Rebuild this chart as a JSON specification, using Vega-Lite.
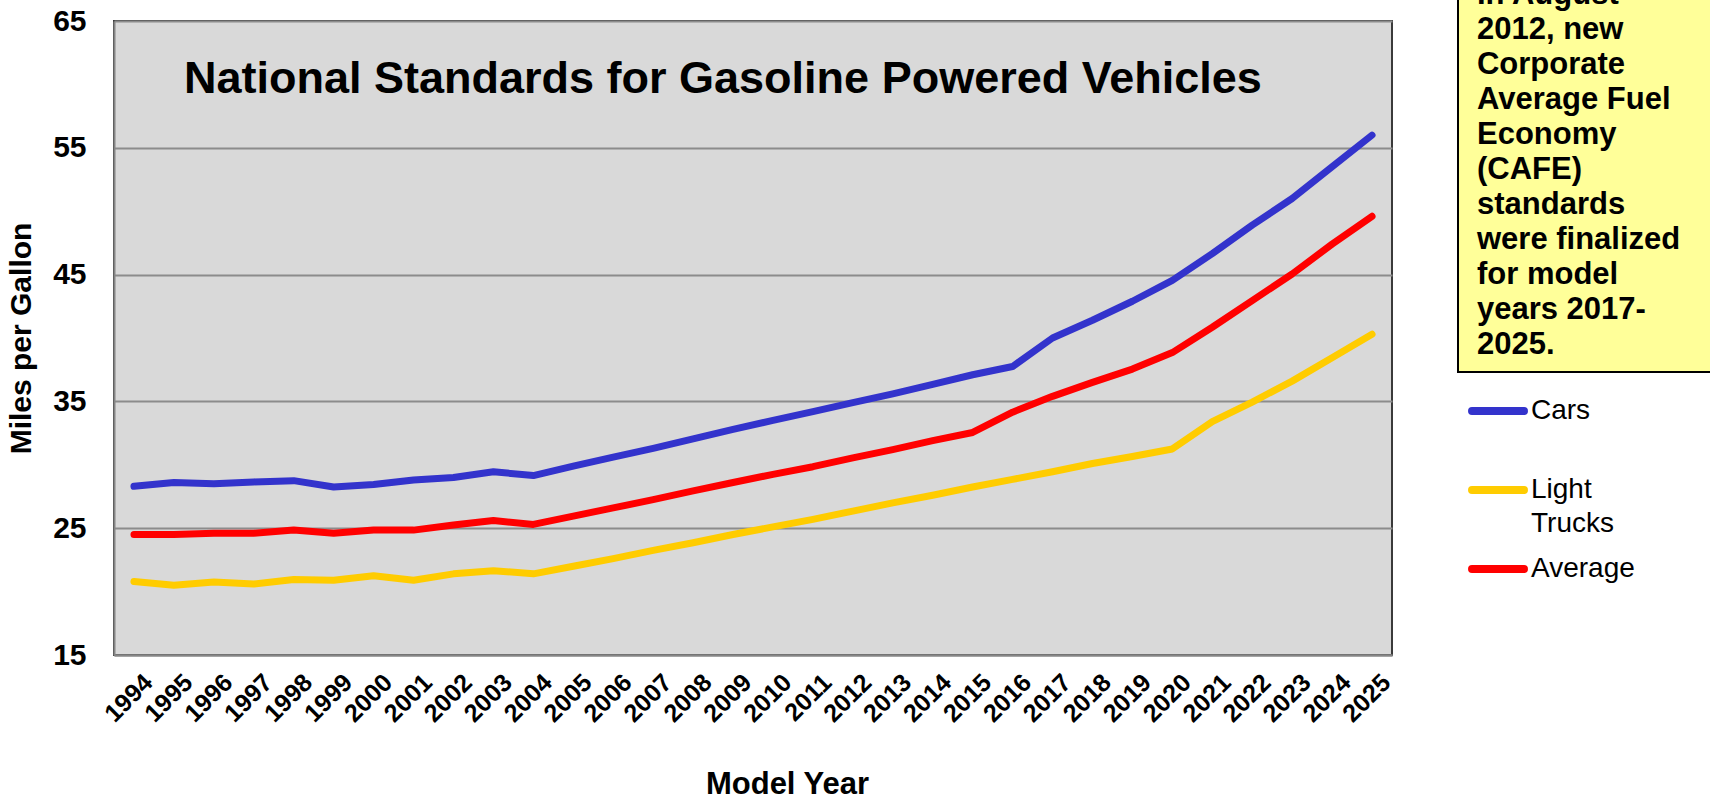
{
  "$schema": "https://vega.github.io/schema/vega-lite/v6.json",
  "padding": {"left": 5, "top": -50, "right": 0, "bottom": 0},
  "background": "white",
  "spacing": 60,
  "config": {
    "font": "Liberation Sans",
    "axis": {"labelColor": "black", "titleColor": "black", "labelFont": "Liberation Sans", "titleFont": "Liberation Sans"},
    "legend": {"labelFont": "Liberation Sans", "labelColor": "black"}
  },
  "hconcat": [
    {
      "width": 1278,
      "height": 634,
      "data": {
        "values": [
          {"Year": "1994", "Cars": 28.3, "Light Trucks": 20.8, "Average": 24.5},
          {"Year": "1995", "Cars": 28.6, "Light Trucks": 20.5, "Average": 24.5},
          {"Year": "1996", "Cars": 28.5, "Light Trucks": 20.75, "Average": 24.6},
          {"Year": "1997", "Cars": 28.65, "Light Trucks": 20.6, "Average": 24.6},
          {"Year": "1998", "Cars": 28.75, "Light Trucks": 20.95, "Average": 24.85},
          {"Year": "1999", "Cars": 28.25, "Light Trucks": 20.9, "Average": 24.6},
          {"Year": "2000", "Cars": 28.45, "Light Trucks": 21.25, "Average": 24.85},
          {"Year": "2001", "Cars": 28.8, "Light Trucks": 20.9, "Average": 24.85},
          {"Year": "2002", "Cars": 29.0, "Light Trucks": 21.4, "Average": 25.25},
          {"Year": "2003", "Cars": 29.45, "Light Trucks": 21.65, "Average": 25.6},
          {"Year": "2004", "Cars": 29.15, "Light Trucks": 21.4, "Average": 25.3},
          {"Year": "2005", "Cars": 29.9, "Light Trucks": 22.0, "Average": 25.95},
          {"Year": "2006", "Cars": 30.6, "Light Trucks": 22.6, "Average": 26.6},
          {"Year": "2007", "Cars": 31.3, "Light Trucks": 23.25, "Average": 27.25},
          {"Year": "2008", "Cars": 32.05, "Light Trucks": 23.85, "Average": 27.95},
          {"Year": "2009", "Cars": 32.8, "Light Trucks": 24.5, "Average": 28.6},
          {"Year": "2010", "Cars": 33.5, "Light Trucks": 25.1, "Average": 29.25},
          {"Year": "2011", "Cars": 34.2, "Light Trucks": 25.7, "Average": 29.85},
          {"Year": "2012", "Cars": 34.9, "Light Trucks": 26.35, "Average": 30.55},
          {"Year": "2013", "Cars": 35.6, "Light Trucks": 27.0, "Average": 31.2},
          {"Year": "2014", "Cars": 36.35, "Light Trucks": 27.6, "Average": 31.9},
          {"Year": "2015", "Cars": 37.1, "Light Trucks": 28.25, "Average": 32.55},
          {"Year": "2016", "Cars": 37.75, "Light Trucks": 28.85, "Average": 34.15},
          {"Year": "2017", "Cars": 40.0, "Light Trucks": 29.45, "Average": 35.4},
          {"Year": "2018", "Cars": 41.4, "Light Trucks": 30.1, "Average": 36.5},
          {"Year": "2019", "Cars": 42.9, "Light Trucks": 30.65, "Average": 37.55},
          {"Year": "2020", "Cars": 44.55, "Light Trucks": 31.25, "Average": 38.85},
          {"Year": "2021", "Cars": 46.65, "Light Trucks": 33.4, "Average": 40.85},
          {"Year": "2022", "Cars": 48.9, "Light Trucks": 34.95, "Average": 42.95},
          {"Year": "2023", "Cars": 51.0, "Light Trucks": 36.6, "Average": 45.05},
          {"Year": "2024", "Cars": 53.5, "Light Trucks": 38.45, "Average": 47.4},
          {"Year": "2025", "Cars": 56.0, "Light Trucks": 40.3, "Average": 49.6}
        ]
      },
      "transform": [{"fold": ["Cars", "Light Trucks", "Average"], "as": ["Series", "MPG"]}],
      "title": {
        "text": "National Standards for Gasoline Powered Vehicles",
        "anchor": "start", "frame": "group", "orient": "top", "offset": 0,
        "baseline": "alphabetic", "dx": 70, "dy": 132,
        "fontSize": 45, "fontWeight": "bold", "font": "Liberation Sans", "color": "black"
      },
      "view": {"fill": "#D9D9D9", "stroke": "#3a3a3a", "strokeWidth": 2},
      "mark": {"type": "line", "strokeWidth": 7, "strokeCap": "round", "strokeJoin": "round"},
      "encoding": {
        "x": {
          "field": "Year", "type": "ordinal",
          "scale": {"type": "point", "padding": 0.5},
          "axis": {
            "title": "Model Year", "labelAngle": -45, "labelAlign": "right", "labelBaseline": "middle",
            "labelFontSize": 25, "labelFontWeight": "bold", "labelPadding": 23, "labelOffset": 14, "labelOverlap": false,
            "ticks": false, "domainColor": "#868686", "domainWidth": 2,
            "titleFontSize": 31, "titleFontWeight": "bold", "titlePadding": 43, "titleX": 673
          }
        },
        "y": {
          "field": "MPG", "type": "quantitative",
          "scale": {"domain": [15, 65], "nice": false, "zero": false},
          "axis": {
            "values": [15, 25, 35, 45, 55, 65], "title": "Miles per Gallon",
            "grid": true, "gridColor": "#8c8c8c", "gridWidth": 2,
            "ticks": false, "domainColor": "#868686", "domainWidth": 2,
            "labelFontSize": 30, "labelFontWeight": "bold", "labelPadding": 28,
            "titleFontSize": 30, "titleFontWeight": "bold", "titlePadding": 16
          }
        },
        "color": {
          "field": "Series", "type": "nominal",
          "scale": {"domain": ["Cars", "Light Trucks", "Average"], "range": ["#3333CC", "#FFCC00", "#FF0000"]},
          "legend": {
            "title": null, "orient": "none", "legendX": 1354, "legendY": 360, "padding": 0,
            "labelFontSize": 28, "labelOffset": 3, "labelLimit": 300,
            "symbolType": "stroke", "symbolStrokeWidth": 8, "symbolSize": 2700,
            "rowPadding": 1, "gridAlign": "all",
            "labelExpr": "datum.label == 'Light Trucks' ? ['Light', 'Trucks'] : datum.label",
            "encode": {
              "symbols": {"update": {"strokeCap": {"value": "round"}}},
              "labels": {"update": {"lineHeight": {"value": 34}}}
            }
          }
        }
      }
    },
    {
      "width": 253,
      "height": 351,
      "view": {"fill": null, "stroke": null},
      "data": {
        "values": [
          {"line": 0, "text": "In August"},
          {"line": 1, "text": "2012, new"},
          {"line": 2, "text": "Corporate"},
          {"line": 3, "text": "Average Fuel"},
          {"line": 4, "text": "Economy"},
          {"line": 5, "text": "(CAFE)"},
          {"line": 6, "text": "standards"},
          {"line": 7, "text": "were finalized"},
          {"line": 8, "text": "for model"},
          {"line": 9, "text": "years 2017-"},
          {"line": 10, "text": "2025."}
        ]
      },
      "layer": [
        {
          "mark": {"type": "rect", "fill": "#FFFF99", "stroke": "black", "strokeWidth": 2, "strokeDash": [0, 674, 674], "clip": false},
          "encoding": {
            "x": {"datum": 0, "type": "quantitative", "scale": {"domain": [0, 1], "nice": false, "zero": false}, "axis": null},
            "x2": {"datum": 1},
            "y": {"datum": -1.5, "type": "quantitative", "scale": {"domain": [0.486, 10.514], "reverse": true, "nice": false, "zero": false}, "axis": null},
            "y2": {"datum": 10.514}
          }
        },
        {
          "mark": {"type": "text", "align": "left", "baseline": "alphabetic", "fontSize": 31, "fontWeight": "bold", "font": "Liberation Sans", "color": "black", "clip": false},
          "encoding": {
            "y": {"field": "line", "type": "quantitative", "axis": null},
            "x": {"datum": 0.075, "type": "quantitative", "axis": null},
            "text": {"field": "text"}
          }
        }
      ]
    }
  ]
}
